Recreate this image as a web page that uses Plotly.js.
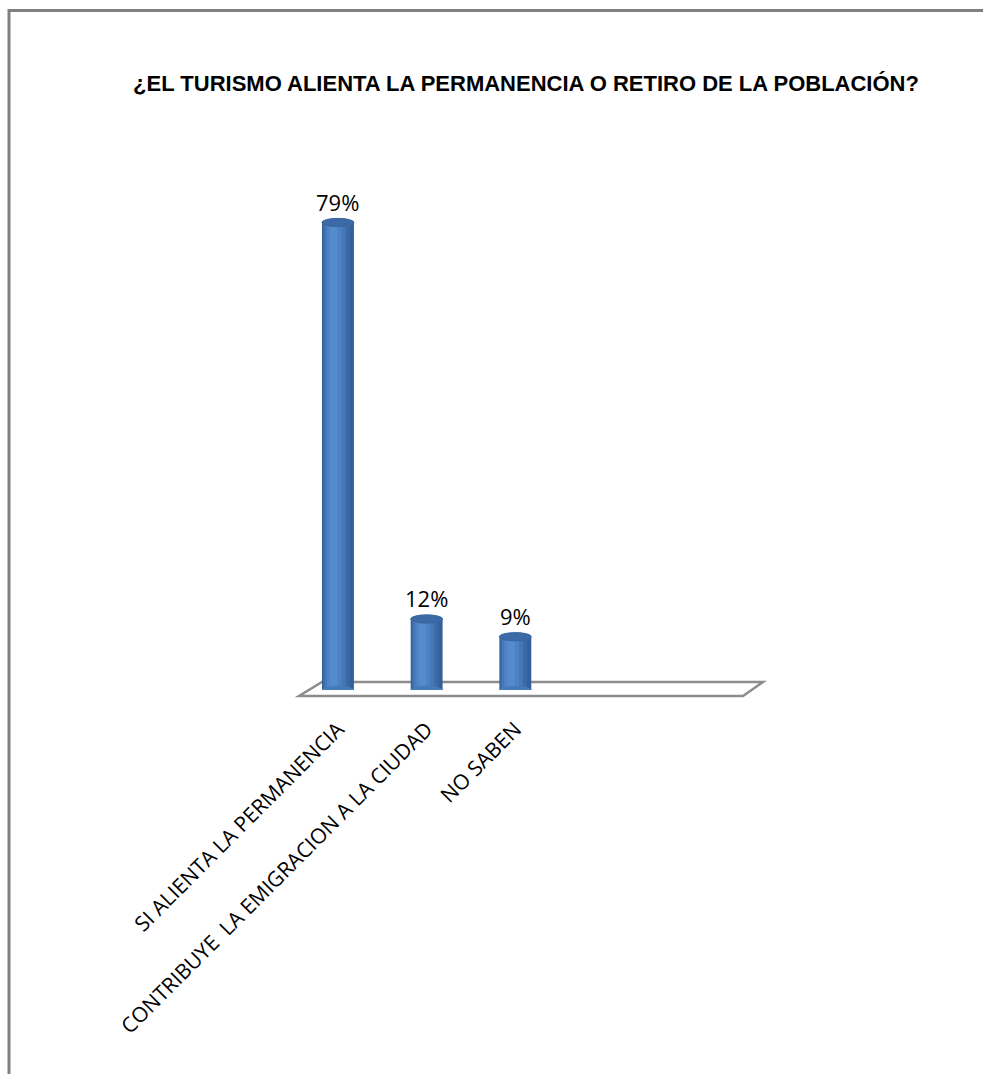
<!DOCTYPE html>
<html>
<head>
<meta charset="utf-8">
<script src="https://cdn.plot.ly/plotly-3.0.1.min.js"></script>
<style>html,body{margin:0;padding:0;background:#fff;} #chart{width:983px;height:1074px;}</style>
</head>
<body>
<div id="chart"></div>
<script>
// ---- data ----
var categories = ["SI ALIENTA LA PERMANENCIA", "CONTRIBUYE  LA EMIGRACION A LA CIUDAD", "NO SABEN"];
var values = [79, 12, 9];
var valueLabels = ["79%", "12%", "9%"];
var chartTitle = "¿EL TURISMO ALIENTA LA PERMANENCIA O RETIRO DE LA POBLACIÓN?";

// ---- layout geometry (pixels) ----
var W = 983, H = 1074;
var L = 311, R = 753, T = 187, B = 690;
function px(x) { return (x - L) / (R - L); }
function py(y) { return (B - y) / (B - T); }

var xs = categories.map(function (c, i) { return i; });
var barW = 0.36;
var capH = 0.7;

// cylinder shading layers: [width fraction, offset from left edge fraction, color]
var layers = [
  [1.00, 0.00, "#33609a"],
  [0.84, 0.03, "#3c6aa6"],
  [0.66, 0.08, "#4677b6"],
  [0.46, 0.15, "#4d83c4"],
  [0.24, 0.24, "#548bcd"]
];

var traces = layers.map(function (ly) {
  return {
    type: "bar",
    x: xs,
    y: values,
    width: barW * ly[0],
    offset: -barW / 2 + barW * ly[1],
    marker: { color: ly[2], line: { width: 0 } },
    hoverinfo: "skip",
    showlegend: false
  };
});

var shapes = [];
// outer frame
shapes.push({ type: "line", xref: "paper", yref: "paper", x0: px(9), x1: px(9), y0: py(9), y1: py(H), line: { color: "#808080", width: 3 } });
shapes.push({ type: "line", xref: "paper", yref: "paper", x0: px(8), x1: px(W), y0: py(10.5), y1: py(10.5), line: { color: "#808080", width: 3 } });
// floor
shapes.push({
  type: "path", xref: "paper", yref: "paper", layer: "below",
  path: "M " + px(322) + "," + py(682) + " L " + px(763) + "," + py(682) + " L " + px(743) + "," + py(696) + " L " + px(299) + "," + py(696) + " Z",
  fillcolor: "#ffffff", line: { color: "#8c8c8c", width: 2.5 }
});
// caps and bottoms derived from data
values.forEach(function (v, i) {
  shapes.push({ type: "circle", xref: "x", yref: "y", layer: "above",
    x0: i - barW / 2, x1: i + barW / 2, y0: -capH, y1: capH,
    fillcolor: "#4579b8", line: { width: 0 } });
  shapes.push({ type: "circle", xref: "x", yref: "y", layer: "above",
    x0: i - barW / 2, x1: i + barW / 2, y0: v - capH, y1: v + capH,
    fillcolor: "#3b6aa6", line: { color: "#3a67a0", width: 1 } });
});

var annotations = values.map(function (v, i) {
  return {
    x: i, y: v, xref: "x", yref: "y", text: valueLabels[i], showarrow: false,
    yanchor: "bottom", yshift: 4,
    font: { family: "Open Sans, DejaVu Sans, sans-serif", size: 22, color: "#000" }
  };
});

var layout = {
  width: W, height: H,
  margin: { l: L, r: W - R, t: T, b: H - B, pad: 0 },
  paper_bgcolor: "#ffffff", plot_bgcolor: "rgba(0,0,0,0)",
  barmode: "overlay",
  title: {
    text: "<b>" + chartTitle + "</b>",
    xref: "container", yref: "container",
    x: 526 / W, y: 1 - 83 / H, xanchor: "center", yanchor: "middle",
    font: { family: "Liberation Sans Narrow, Arial Narrow, Liberation Sans, sans-serif", size: 22, color: "#000" }
  },
  xaxis: {
    range: [-0.304, 4.68],
    tickvals: xs, ticktext: categories,
    tickangle: -45,
    tickfont: { family: "Open Sans, DejaVu Sans, sans-serif", size: 21, color: "#000" },
    ticklabelstandoff: 22,
    showgrid: false, zeroline: false, showline: false, ticks: "",
    fixedrange: true
  },
  yaxis: {
    range: [0, 85],
    showgrid: false, zeroline: false, showline: false, showticklabels: false, ticks: "",
    fixedrange: true
  },
  shapes: shapes,
  annotations: annotations,
  showlegend: false
};

Plotly.newPlot("chart", traces, layout, { displayModeBar: false, staticPlot: true });
</script>
</body>
</html>
